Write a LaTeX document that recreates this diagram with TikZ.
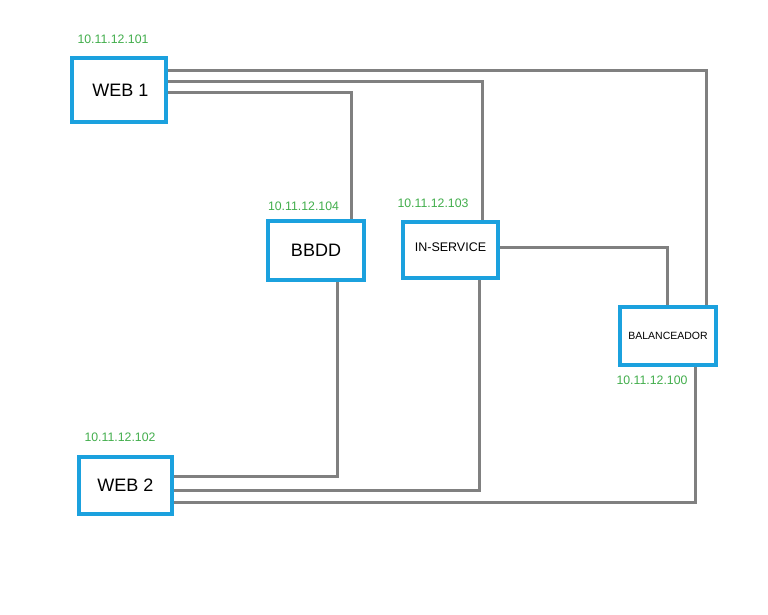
\documentclass[tikz,border=0pt]{standalone}
\usepackage{fontspec}
\setmainfont{Liberation Sans}
\definecolor{boxblue}{RGB}{27,161,222}
\definecolor{iplabel}{RGB}{66,174,76}
\definecolor{wire}{RGB}{128,128,128}
\begin{document}
\begin{tikzpicture}[x=1pt,y=-1pt,
  server/.style={draw=boxblue,line width=4.5pt,fill=white,rectangle,inner sep=0pt},
  ip/.style={text=iplabel,font=\fontsize{12.3}{14}\selectfont,inner sep=0pt},
  conn/.style={draw=wire,line width=3pt,line join=miter}]
\useasboundingbox[fill=white] (0,0) rectangle (768,614);
% servers
\node[server,minimum width=94pt,minimum height=64pt,font=\fontsize{18}{20}\selectfont] (web1) at (119,90) {\hspace{3pt}WEB 1};
\node[server,minimum width=96pt,minimum height=59pt,font=\fontsize{18}{20}\selectfont] (bbdd) at (316,250.5) {BBDD};
\node[server,minimum width=95pt,minimum height=56pt,font=\fontsize{12.5}{14}\selectfont,text depth=5pt] (ins) at (450.5,250) {IN-SERVICE};
\node[server,minimum width=96pt,minimum height=58pt,font=\fontsize{10.5}{12}\selectfont] (bal) at (668,336) {BALANCEADOR};
\node[server,minimum width=93pt,minimum height=57pt,font=\fontsize{18}{20}\selectfont] (web2) at (125.5,485.5) {WEB 2};
% ip labels
\node[ip] (ip101) at (113,39) {10.11.12.101};
\node[ip] (ip104) at (303.5,206) {10.11.12.104};
\node[ip] (ip103) at (433,203) {10.11.12.103};
\node[ip] (ip100) at (652,380) {10.11.12.100};
\node[ip] (ip102) at (120,437) {10.11.12.102};
% connectors
\draw[conn] ([yshift=20pt]web1.east) -| ([xshift=38pt]bal.north);
\draw[conn] ([yshift=9pt]web1.east) -| ([xshift=31.5pt]ins.north);
\draw[conn] ([yshift=-2pt]web1.east) -| ([xshift=35pt]bbdd.north);
\draw[conn] ([xshift=21pt]bbdd.south) |- ([yshift=9.5pt]web2.east);
\draw[conn] ([xshift=28.5pt]ins.south) |- ([yshift=-4.5pt]web2.east);
\draw[conn] ([yshift=3pt]ins.east) -| ([xshift=-1pt]bal.north);
\draw[conn] ([xshift=27pt]bal.south) |- ([yshift=-16.5pt]web2.east);
\end{tikzpicture}
\end{document}
